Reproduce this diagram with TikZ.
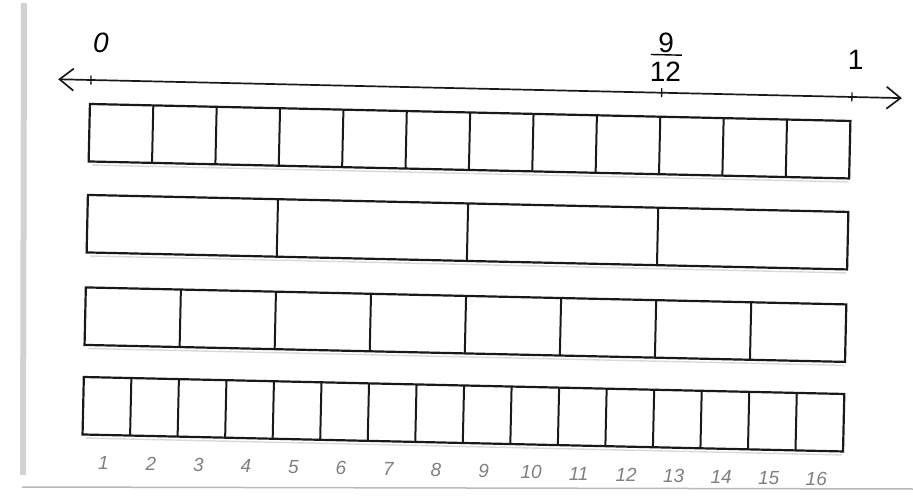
\documentclass[tikz,border=0pt]{standalone}
\usepackage{fontspec}
\setmainfont{Liberation Sans}
\usetikzlibrary{arrows.meta}
\begin{document}
\begin{tikzpicture}[x=1pt,y=-1pt,
  barline/.style={line width=2.2pt, black!90},
  divline/.style={line width=2pt, black!90},
  shadowline/.style={line width=1.4pt, gray!30},
  axisline/.style={line width=1.7pt, black!90},
  tickmark/.style={line width=1.3pt, black!90},
  barb/.tip={Straight Barb[length=14pt,width=22pt,line width=1.7pt]},
  lbl/.style={font=\fontsize{28}{32}\selectfont, inner sep=0pt},
  lblit/.style={font=\fontsize{28}{32}\selectfont\itshape, inner sep=0pt},
  hand/.style={font=\fontsize{19}{22}\selectfont\itshape, text=black!50, inner sep=0pt}]
\useasboundingbox (0,0) rectangle (913,500);
\fill[white] (0,0) rectangle (913,500);
% scan edges of the paper
\draw[gray!35, line width=6pt] (24,3) -- (23,475);
\draw[gray!55, line width=1.5pt] (22,487) -- (913,489);
\begin{scope}[rotate around={-1.28:(470,270)}]
  % number line
  \coordinate (L) at (54,88.5);
  \coordinate (R) at (898,88.5);
  \draw[axisline, barb-barb] (L) -- (R);
  \coordinate (t0) at (86.8,88.5);
  \coordinate (t9) at (657.7,88.5);
  \coordinate (t1) at (848,88.5);
  \foreach \t in {t0,t9,t1} \draw[tickmark] ([yshift=4.5pt]\t) -- ([yshift=-4.5pt]\t);
  \node[lblit] (zero) at (96,51) {0};
  \node[lbl] (num) at (661,38.5) {9};
  \node[lbl] (den) at (661,67.5) {12};
  \draw[line width=1.4pt] (646,50.5) -- (677,50.5);
  \node[lbl] (one) at (851,51.5) {1};
  % bars
  \foreach \yy in {112.5,203.5,296,385.6} {
    \draw[shadowline] (90,\yy+61) -- (846,\yy+61);
    \draw[barline] (86.3,\yy) rectangle (847,\yy+57.5);
  }
  \foreach \k in {1,...,11} \draw[divline] ({86.3+\k*760.7/12},112.5) -- ++(0,57.5);
  \foreach \k in {1,...,3}  \draw[divline] ({86.3+\k*760.7/4},203.5) -- ++(0,57.5);
  \foreach \k in {1,...,7}  \draw[divline] ({86.3+\k*760.7/8},296) -- ++(0,57.5);
  \foreach \k in {1,...,15} \draw[divline] ({86.3+\k*760.7/16},385.6) -- ++(0,57.5);
  % handwritten counts
  \foreach \k in {1,...,16} \node[hand] (h\k) at ({86.3+(\k-0.55)*760.7/16},471) {\k};
\end{scope}
\end{tikzpicture}
\end{document}
